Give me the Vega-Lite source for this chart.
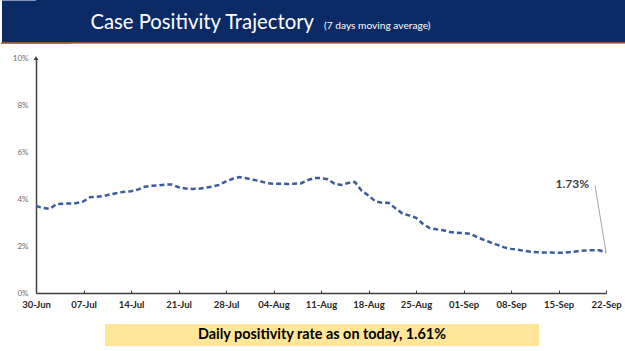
{
  "$schema": "https://vega.github.io/schema/vega-lite/v6.json",
  "padding": 0,
  "background": "white",
  "spacing": 10,
  "bounds": "full",
  "config": {"view": {"stroke": null}, "font": "Lato"},
  "datasets": {
    "series": [
      {"date": "2020-06-30", "value": 3.70},
      {"date": "2020-07-01", "value": 3.62},
      {"date": "2020-07-02", "value": 3.58},
      {"date": "2020-07-03", "value": 3.78},
      {"date": "2020-07-04", "value": 3.80},
      {"date": "2020-07-05", "value": 3.81},
      {"date": "2020-07-06", "value": 3.83},
      {"date": "2020-07-07", "value": 3.90},
      {"date": "2020-07-08", "value": 4.08},
      {"date": "2020-07-09", "value": 4.10},
      {"date": "2020-07-10", "value": 4.13},
      {"date": "2020-07-11", "value": 4.20},
      {"date": "2020-07-12", "value": 4.26},
      {"date": "2020-07-13", "value": 4.31},
      {"date": "2020-07-14", "value": 4.33},
      {"date": "2020-07-15", "value": 4.40},
      {"date": "2020-07-16", "value": 4.52},
      {"date": "2020-07-17", "value": 4.56},
      {"date": "2020-07-18", "value": 4.58},
      {"date": "2020-07-19", "value": 4.61},
      {"date": "2020-07-20", "value": 4.62},
      {"date": "2020-07-21", "value": 4.50},
      {"date": "2020-07-22", "value": 4.45},
      {"date": "2020-07-23", "value": 4.43},
      {"date": "2020-07-24", "value": 4.44},
      {"date": "2020-07-25", "value": 4.48},
      {"date": "2020-07-26", "value": 4.53},
      {"date": "2020-07-27", "value": 4.60},
      {"date": "2020-07-28", "value": 4.75},
      {"date": "2020-07-29", "value": 4.86},
      {"date": "2020-07-30", "value": 4.93},
      {"date": "2020-07-31", "value": 4.88},
      {"date": "2020-08-01", "value": 4.82},
      {"date": "2020-08-02", "value": 4.76},
      {"date": "2020-08-03", "value": 4.68},
      {"date": "2020-08-04", "value": 4.65},
      {"date": "2020-08-05", "value": 4.65},
      {"date": "2020-08-06", "value": 4.64},
      {"date": "2020-08-07", "value": 4.65},
      {"date": "2020-08-08", "value": 4.66},
      {"date": "2020-08-09", "value": 4.80},
      {"date": "2020-08-10", "value": 4.89},
      {"date": "2020-08-11", "value": 4.89},
      {"date": "2020-08-12", "value": 4.84},
      {"date": "2020-08-13", "value": 4.65},
      {"date": "2020-08-14", "value": 4.60},
      {"date": "2020-08-15", "value": 4.68},
      {"date": "2020-08-16", "value": 4.72},
      {"date": "2020-08-17", "value": 4.35},
      {"date": "2020-08-18", "value": 4.15},
      {"date": "2020-08-19", "value": 3.90},
      {"date": "2020-08-20", "value": 3.84},
      {"date": "2020-08-21", "value": 3.83},
      {"date": "2020-08-22", "value": 3.60},
      {"date": "2020-08-23", "value": 3.38},
      {"date": "2020-08-24", "value": 3.30},
      {"date": "2020-08-25", "value": 3.20},
      {"date": "2020-08-26", "value": 2.95},
      {"date": "2020-08-27", "value": 2.76},
      {"date": "2020-08-28", "value": 2.71},
      {"date": "2020-08-29", "value": 2.67},
      {"date": "2020-08-30", "value": 2.60},
      {"date": "2020-08-31", "value": 2.56},
      {"date": "2020-09-01", "value": 2.55},
      {"date": "2020-09-02", "value": 2.52},
      {"date": "2020-09-03", "value": 2.38},
      {"date": "2020-09-04", "value": 2.26},
      {"date": "2020-09-05", "value": 2.15},
      {"date": "2020-09-06", "value": 2.05},
      {"date": "2020-09-07", "value": 1.94},
      {"date": "2020-09-08", "value": 1.88},
      {"date": "2020-09-09", "value": 1.84},
      {"date": "2020-09-10", "value": 1.79},
      {"date": "2020-09-11", "value": 1.75},
      {"date": "2020-09-12", "value": 1.73},
      {"date": "2020-09-13", "value": 1.72},
      {"date": "2020-09-14", "value": 1.72},
      {"date": "2020-09-15", "value": 1.71},
      {"date": "2020-09-16", "value": 1.72},
      {"date": "2020-09-17", "value": 1.75},
      {"date": "2020-09-18", "value": 1.79},
      {"date": "2020-09-19", "value": 1.81},
      {"date": "2020-09-20", "value": 1.82},
      {"date": "2020-09-21", "value": 1.82},
      {"date": "2020-09-22", "value": 1.73}
    ],
    "callout": [
      {"date": "2020-09-22", "value": 1.73, "label": "1.73%"}
    ]
  },
  "vconcat": [
    {
      "width": 590,
      "height": 43,
      "view": {"fill": "#0c2a66", "stroke": null},
      "layer": [
        {
          "data": {"values": [{"t": "Case Positivity Trajectory"}]},
          "mark": {"type": "text", "align": "right", "baseline": "alphabetic", "dx": -17, "dy": 7, "color": "white", "fontSize": 20.3, "font": "Lato"},
          "encoding": {"text": {"field": "t"}}
        },
        {
          "data": {"values": [{"t": "(7 days moving average)"}]},
          "mark": {"type": "text", "align": "left", "baseline": "alphabetic", "dx": -7, "dy": 7, "color": "white", "fontSize": 10.2, "font": "Lato"},
          "encoding": {"text": {"field": "t"}}
        },
        {
          "data": {"values": [{"start": 0, "end": 1, "edge": 0}]},
          "mark": {"type": "rule", "color": "#c8632a", "strokeWidth": 1.5, "xOffset": -35},
          "encoding": {
            "x": {"field": "start", "type": "quantitative", "scale": {"domain": [0, 1]}, "axis": null},
            "x2": {"field": "end"},
            "y": {
              "field": "edge", "type": "quantitative", "scale": {"domain": [0, 1]},
              "axis": {"title": null, "labels": false, "ticks": false, "grid": false, "domain": true, "domainColor": "#0c2a66", "domainWidth": 69, "minExtent": 35, "maxExtent": 35}
            }
          }
        }
      ]
    },
    {
      "width": 570,
      "height": 235,
      "layer": [
        {
          "data": {"name": "series"},
          "mark": {"type": "line", "color": "#3a5ba0", "strokeWidth": 2.5, "strokeDash": [5, 3]},
          "encoding": {
            "x": {
              "field": "date", "type": "temporal",
              "scale": {"type": "utc", "domain": [{"year": 2020, "month": 6, "date": 30, "utc": true}, {"year": 2020, "month": 9, "date": 22, "utc": true}]},
              "axis": {
                "title": null, "format": "%d-%b", "grid": false,
                "values": [
                  {"year": 2020, "month": 6, "date": 30, "utc": true},
                  {"year": 2020, "month": 7, "date": 7, "utc": true},
                  {"year": 2020, "month": 7, "date": 14, "utc": true},
                  {"year": 2020, "month": 7, "date": 21, "utc": true},
                  {"year": 2020, "month": 7, "date": 28, "utc": true},
                  {"year": 2020, "month": 8, "date": 4, "utc": true},
                  {"year": 2020, "month": 8, "date": 11, "utc": true},
                  {"year": 2020, "month": 8, "date": 18, "utc": true},
                  {"year": 2020, "month": 8, "date": 25, "utc": true},
                  {"year": 2020, "month": 9, "date": 1, "utc": true},
                  {"year": 2020, "month": 9, "date": 8, "utc": true},
                  {"year": 2020, "month": 9, "date": 15, "utc": true},
                  {"year": 2020, "month": 9, "date": 22, "utc": true}
                ],
                "domainColor": "#404040", "domainWidth": 1.5,
                "tickColor": "#404040", "tickSize": -3, "tickWidth": 1,
                "labelFontSize": 9.5, "labelFontWeight": "bold", "labelColor": "#262626",
                "labelPadding": 9, "labelFlush": false, "labelOverlap": false,
                "minExtent": 21, "maxExtent": 21
              }
            },
            "y": {
              "field": "value", "type": "quantitative",
              "scale": {"domain": [0, 10]},
              "axis": {
                "title": null, "grid": false, "ticks": false,
                "values": [0, 2, 4, 6, 8, 10],
                "labelExpr": "datum.value + '%'",
                "domainColor": "#404040", "domainWidth": 1.5,
                "labelFontSize": 8, "labelColor": "#6b6b6b", "labelPadding": 8,
                "labelFlush": false, "minExtent": 35, "maxExtent": 35
              }
            }
          }
        },
        {
          "data": {"name": "callout"},
          "mark": {"type": "rule", "color": "#a6a6a6", "strokeWidth": 1, "x2Offset": -11, "y2Offset": -67},
          "encoding": {
            "x": {"field": "date", "type": "temporal"},
            "y": {"field": "value", "type": "quantitative"},
            "x2": {"field": "date"},
            "y2": {"field": "value"}
          }
        },
        {
          "data": {"name": "callout"},
          "mark": {"type": "text", "align": "right", "baseline": "middle", "dx": -17, "dy": -68, "fontSize": 12, "fontWeight": "bold", "color": "#404040"},
          "encoding": {
            "x": {"field": "date", "type": "temporal"},
            "y": {"field": "value", "type": "quantitative"},
            "text": {"field": "label"}
          }
        },
        {
          "data": {"values": [{"date": "2020-06-30", "value": 10}]},
          "mark": {"type": "point", "shape": "triangle-up", "filled": true, "size": 22, "color": "#404040", "opacity": 1},
          "encoding": {
            "x": {"field": "date", "type": "temporal"},
            "y": {"field": "value", "type": "quantitative"}
          }
        }
      ]
    },
    {
      "hconcat": [
        {
          "width": 69,
          "height": 22,
          "data": {"values": []},
          "mark": {"type": "text"},
          "encoding": {}
        },
        {
          "width": 434,
          "height": 22,
          "view": {"fill": "#ffe699", "stroke": null},
          "data": {"values": [{"t": "Daily positivity rate as on today, 1.61%"}]},
          "mark": {"type": "text", "fontSize": 14.4, "fontWeight": "bold", "color": "black", "font": "Lato"},
          "encoding": {"text": {"field": "t"}}
        }
      ],
      "spacing": 0
    }
  ]
}
